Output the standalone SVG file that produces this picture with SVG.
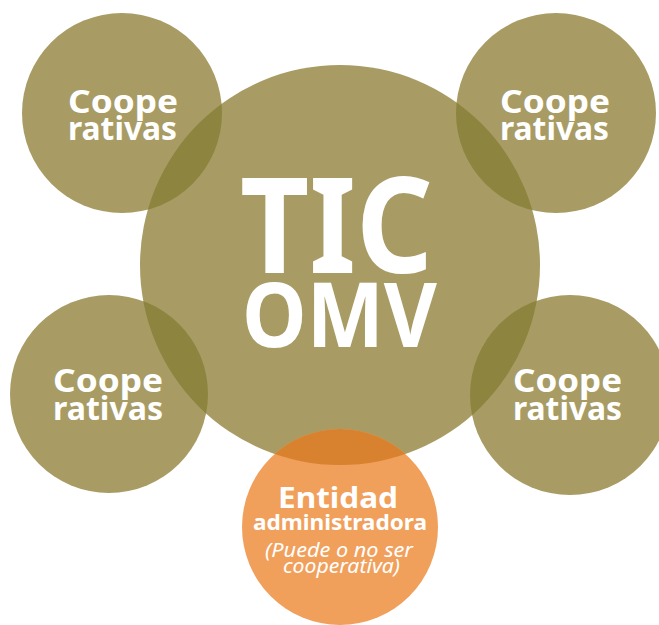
<svg xmlns="http://www.w3.org/2000/svg" width="659" height="625" viewBox="0 0 659 625">
<style>
.olive{fill:#a89c64}
.ov{fill:#8d843f}
.orange{fill:#f1a05c}
.ovo{fill:#d8822f}
.t{font-family:"Noto Sans","Open Sans","DejaVu Sans",sans-serif;font-weight:bold;fill:#ffffff;text-anchor:start}
.c{font-size:32px}
.i{font-style:italic;font-weight:normal;font-size:19px}
</style>
<defs>
<clipPath id="bigClip"><circle cx="340" cy="265" r="200"/></clipPath>
</defs>
<rect width="659" height="625" fill="#ffffff"/>
<g id="node-tic">
<circle class="olive" cx="340" cy="265" r="200"/>
</g>
<g id="node-coop-tl">
<circle class="olive" cx="122" cy="113" r="100"/>
</g>
<g id="node-coop-tr">
<circle class="olive" cx="556" cy="113" r="100"/>
</g>
<g id="node-coop-bl">
<circle class="olive" cx="109" cy="394" r="99"/>
</g>
<g id="node-coop-br">
<circle class="olive" cx="570" cy="395" r="100"/>
</g>
<g id="node-entidad">
<circle class="orange" cx="340" cy="527" r="98"/>
</g>
<g id="overlaps" clip-path="url(#bigClip)">
<circle class="ov" cx="122" cy="113" r="100"/>
<circle class="ov" cx="556" cy="113" r="100"/>
<circle class="ov" cx="109" cy="394" r="99"/>
<circle class="ov" cx="570" cy="395" r="100"/>
<circle class="ovo" cx="340" cy="527" r="98"/>
</g>
<g id="connectors"></g>
<g id="labels">
<text class="t" x="240" y="273" font-size="132" textLength="193" lengthAdjust="spacingAndGlyphs">TIC</text>
<text class="t" x="242" y="347" font-size="89" textLength="195" lengthAdjust="spacingAndGlyphs">OMV</text>
<text class="t c" x="68" y="113" textLength="110" lengthAdjust="spacingAndGlyphs">Coope</text>
<text class="t c" x="68" y="140" textLength="109" lengthAdjust="spacingAndGlyphs">rativas</text>
<text class="t c" x="500" y="113" textLength="110" lengthAdjust="spacingAndGlyphs">Coope</text>
<text class="t c" x="500" y="140" textLength="109" lengthAdjust="spacingAndGlyphs">rativas</text>
<text class="t c" x="53" y="392" textLength="110" lengthAdjust="spacingAndGlyphs">Coope</text>
<text class="t c" x="53" y="420" textLength="110" lengthAdjust="spacingAndGlyphs">rativas</text>
<text class="t c" x="513" y="392" textLength="109" lengthAdjust="spacingAndGlyphs">Coope</text>
<text class="t c" x="513" y="420" textLength="109" lengthAdjust="spacingAndGlyphs">rativas</text>
<text class="t" x="278" y="508" font-size="29" textLength="120" lengthAdjust="spacingAndGlyphs">Entidad</text>
<text class="t" x="253" y="530" font-size="21" textLength="174" lengthAdjust="spacingAndGlyphs">administradora</text>
<text class="t i" x="265" y="557" textLength="148" lengthAdjust="spacingAndGlyphs">(Puede o no ser</text>
<text class="t i" x="283" y="573" textLength="117" lengthAdjust="spacingAndGlyphs">cooperativa)</text>
</g>
</svg>
